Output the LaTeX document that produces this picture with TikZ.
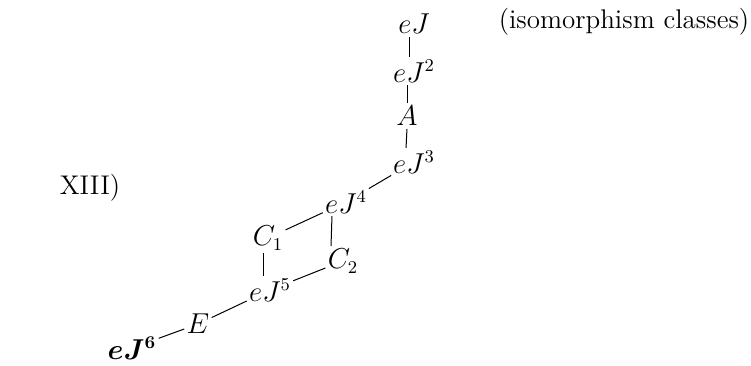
\documentclass[tikz,border=0pt]{standalone}
\usepackage{amsmath,bm}
\begin{document}
\begin{tikzpicture}[x=0.5pt,y=-0.5pt,
  lab/.style={inner sep=1pt,font=\fontsize{13.5}{16}\selectfont},
  edge/.style={line width=0.5pt,shorten <=0.3pt,shorten >=0.3pt},
  dedge/.style={line width=0.5pt}]
\useasboundingbox (0,0) rectangle (751,365);
\node[lab] (eJ1) at (414,24) {$eJ$};
\node[lab] (eJ2) at (414,71) {$eJ^2$};
\node[lab] (A) at (407,116) {$A$};
\node[lab] (eJ3) at (414,162) {$eJ^3$};
\node[lab] (eJ4) at (346,202) {$eJ^4$};
\node[lab] (C1) at (268,238) {$C_1$};
\node[lab] (C2) at (343,261) {$C_2$};
\node[lab] (eJ5) at (270,290) {$eJ^5$};
\node[lab] (E) at (198,324) {$E$};
\node[lab] (eJ6) at (132,348) {$\bm{eJ^6}$};
\node[lab] (title) at (624,22) {(isomorphism classes)};
\node[lab] (num) at (90,188) {XIII)};
\draw[edge] ([xshift=-2.5pt]eJ1.south) -- ([xshift=-2.5pt]eJ2.north);
\draw[edge] ([xshift=-3.5pt]eJ2.south) -- (A.north);
\draw[edge] (A.south) -- ([xshift=-4pt]eJ3.north);
\draw[dedge] (eJ3) -- (eJ4);
\draw[dedge] (C1) -- (eJ4);
\draw[edge] ([xshift=-7pt]eJ4.south) -- ([xshift=-6pt]C2.north);
\draw[edge] ([xshift=-2.5pt]C1.south) -- ([xshift=-3.5pt]eJ5.north);
\draw[dedge] (C2) -- (eJ5);
\draw[dedge] (eJ5) -- (E);
\draw[dedge] (E) -- (eJ6);
\end{tikzpicture}
\end{document}
